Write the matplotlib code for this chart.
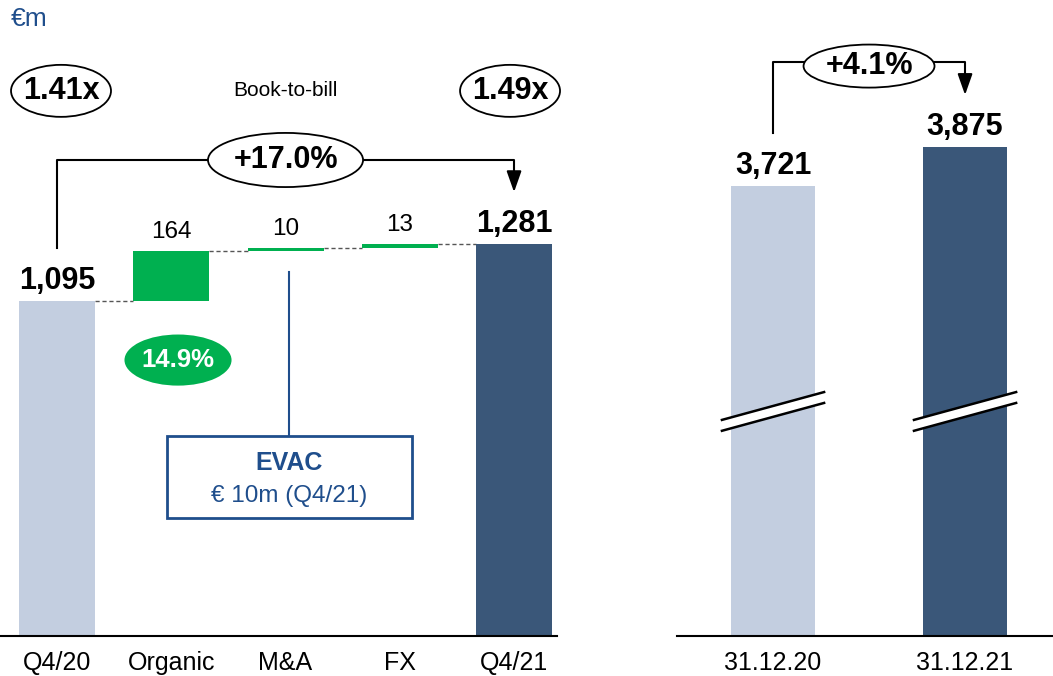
import numpy as np
import matplotlib.pyplot as plt
from matplotlib.patches import Ellipse, Rectangle, Polygon

plt.rcParams['font.family'] = ['Liberation Sans', 'DejaVu Sans']

# Order intake bridge Q4/20 -> Q4/21 (EUR m)
bridge_labels = ['Q4/20', 'Organic', 'M&A', 'FX', 'Q4/21']
q4_20 = 1095
steps = [164, 10, 13]
q4_21 = 1281
book_to_bill = ['1.41x', '1.49x']
growth_q4 = '+17.0%'
organic_growth = '14.9%'

# Order backlog at year end (EUR m)
backlog_labels = ['31.12.20', '31.12.21']
backlog = [3721, 3875]
growth_backlog = '+4.1%'

light = '#c3cee0'
dark = '#3a5779'
green = '#00b050'
blue = '#1f4e8c'

fig = plt.figure(figsize=(10.53, 6.76), dpi=100)
W, H = 1053, 676
ax = fig.add_axes([0, 40 / H, 557 / W, 636 / H])
ax2 = fig.add_axes([677 / W, 40 / H, 376 / W, 636 / H])

# ---- left: waterfall ----
x = np.arange(len(bridge_labels))
bw = 0.665
bottoms = [0, q4_20, q4_20 + steps[0], q4_20 + steps[0] + steps[1], 0]
heights = [q4_20] + steps + [q4_21]
colors = [light, green, green, green, dark]
ax.bar(x, heights, bottom=bottoms, width=bw, color=colors, zorder=2)

tops = [b + h for b, h in zip(bottoms, heights)]
for i in range(len(x) - 1):
    ax.plot([x[i] + bw / 2, x[i + 1] - bw / 2], [tops[i], tops[i]],
            ls=(0, (3, 2)), color='#555555', lw=1, zorder=1)

for i, (t, h) in enumerate(zip(tops, heights)):
    total = i in (0, len(x) - 1)
    ax.annotate(f'{h:,}', (x[i], t), xytext=(0, 9), textcoords='offset points',
                ha='center', va='baseline',
                fontsize=22 if total else 17.5,
                fontweight='bold' if total else 'normal')

ax.set_xlim(-0.499, 4.376)
ax.set_ylim(0, 2079)

# book-to-bill row
bb_y = 1782
for xi, txt in zip([0.035, 3.965], book_to_bill):
    ax.add_patch(Ellipse((xi, bb_y), 0.875, 170, fc='white', ec='black', lw=1.3,
                         zorder=3, clip_on=False))
    ax.text(xi, bb_y, txt, ha='center', va='center', fontsize=22, fontweight='bold',
            zorder=4, clip_on=False)
ax.text(2, bb_y, 'Book-to-bill', ha='center', va='center', fontsize=15)

# growth bracket
br_y = 1556
ax.plot([0, 0, 4, 4], [1268, br_y, br_y, 1500], color='black', lw=1.5, zorder=2)
ax.annotate('', xy=(4, 1451), xytext=(4, 1510),
            arrowprops=dict(arrowstyle='-|>,head_width=0.3,head_length=0.85',
                            mutation_scale=15, color='black', lw=1.5,
                            shrinkA=0, shrinkB=0))
ax.add_patch(Ellipse((2, br_y), 1.357, 177, fc='white', ec='black', lw=1.3, zorder=3))
ax.text(2, br_y, growth_q4, ha='center', va='center', fontsize=22, fontweight='bold', zorder=4)

# organic growth bubble
ax.add_patch(Ellipse((1.059, 902), 0.937, 167, fc=green, ec='none', zorder=3))
ax.text(1.059, 902, organic_growth, ha='center', va='center', color='white',
        fontsize=18.5, fontweight='bold', zorder=4)

# EVAC callout
cx = 2.03
ax.plot([cx, cx], [1190, 654], color=blue, lw=1.5, zorder=2)
ax.add_patch(Rectangle((0.963, 386), 2.144, 268, fc='white', ec=blue, lw=2, zorder=3))
ax.text(cx, 567, 'EVAC', ha='center', va='center', color=blue, fontsize=18,
        fontweight='bold', zorder=4)
ax.text(cx, 458, '€ 10m (Q4/21)', ha='center', va='center', color=blue,
        fontsize=17.5, zorder=4)

# ---- right: backlog with broken axis ----
x2 = np.arange(len(backlog))
bw2 = 0.4375
ax2.bar(x2, backlog, width=bw2, color=[light, dark], zorder=2)
for xi, v in zip(x2, backlog):
    ax2.annotate(f'{v:,}', (xi, v), xytext=(0, 9), textcoords='offset points',
                 ha='center', va='baseline', fontsize=22, fontweight='bold')
ax2.set_xlim(-0.5, 1.458)
ax2.set_ylim(1944, 4456)

# axis break marks
for xi in x2:
    dx = 0.266
    y_lo, y_hi = 2776, 2886
    gap = 43
    ax2.add_patch(Polygon([[xi - dx, y_lo - gap / 2], [xi + dx, y_hi - gap / 2],
                           [xi + dx, y_hi + gap / 2], [xi - dx, y_lo + gap / 2]],
                          closed=True, fc='white', ec='none', zorder=3))
    for s in (-1, 1):
        ax2.plot([xi - dx, xi + dx], [y_lo + s * gap / 2, y_hi + s * gap / 2],
                 color='black', lw=1.8, zorder=4)

br2_y = 4212
ax2.plot([0, 0, 1, 1], [3931, br2_y, br2_y, 4130], color='black', lw=1.5, zorder=2)
ax2.annotate('', xy=(1, 4081), xytext=(1, 4140),
             arrowprops=dict(arrowstyle='-|>,head_width=0.3,head_length=0.85',
                             mutation_scale=15, color='black', lw=1.5,
                             shrinkA=0, shrinkB=0))
ax2.add_patch(Ellipse((0.5, 4195), 0.682, 170, fc='white', ec='black', lw=1.3, zorder=3))
ax2.text(0.5, 4195, growth_backlog, ha='center', va='center', fontsize=22,
         fontweight='bold', zorder=4)

for a, pos, labels in [(ax, x, bridge_labels), (ax2, x2, backlog_labels)]:
    for side in ('top', 'right', 'left'):
        a.spines[side].set_visible(False)
    a.spines['bottom'].set_linewidth(1.5)
    a.set_xticks(pos)
    a.set_xticklabels(labels, fontsize=18)
    a.tick_params(axis='x', length=0, pad=11)
    a.set_yticks([])
    a.patch.set_alpha(0)

fig.text(11 / W, 1 - 19 / H, '€m', color=blue, fontsize=19, va='center', ha='left')

fig.savefig('out.png', dpi=100)
